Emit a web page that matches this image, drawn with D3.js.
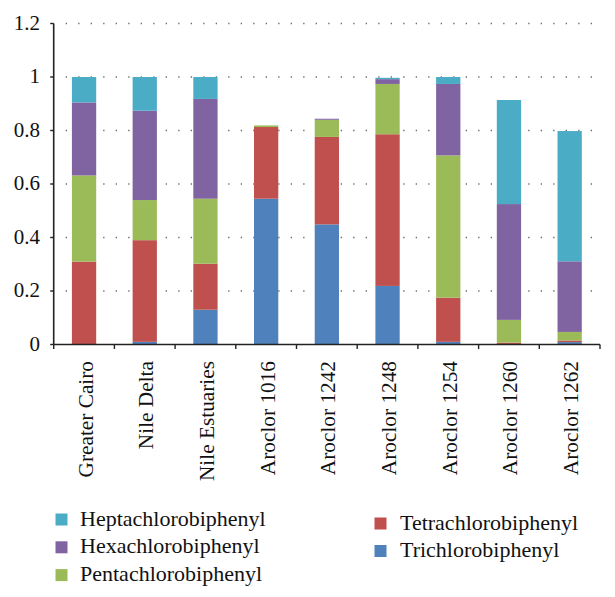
<!DOCTYPE html>
<html>
<head>
<meta charset="utf-8">
<script src="https://cdn.jsdelivr.net/npm/d3@7"></script>
<style>
  html, body { margin: 0; padding: 0; background: #fff; }
  svg { display: block; }
  text { font-family: "Liberation Serif", "Times New Roman", serif; fill: #111; }
</style>
</head>
<body>
<svg id="chart" width="615" height="597"></svg>
<script>
// ---- data ----
const categories = ["Greater Cairo", "Nile Delta", "Nile Estuaries", "Aroclor 1016", "Aroclor 1242",
                    "Aroclor 1248", "Aroclor 1254", "Aroclor 1260", "Aroclor 1262"];
const trichloro   = [0.000, 0.010, 0.130, 0.545, 0.449, 0.219, 0.010, 0.002, 0.009];
const tetrachloro = [0.310, 0.380, 0.172, 0.268, 0.327, 0.567, 0.165, 0.005, 0.006];
const pentachloro = [0.322, 0.150, 0.243, 0.006, 0.064, 0.188, 0.532, 0.085, 0.032];
const hexachloro  = [0.273, 0.334, 0.373, 0.000, 0.004, 0.018, 0.267, 0.433, 0.264];
const heptachloro = [0.095, 0.126, 0.082, 0.000, 0.000, 0.005, 0.026, 0.389, 0.487];
const seriesNames = ["Trichlorobiphenyl", "Tetrachlorobiphenyl", "Pentachlorobiphenyl",
                     "Hexachlorobiphenyl", "Heptachlorobiphenyl"];
const seriesColors = ["#4F81BD", "#C0504D", "#9BBB59", "#8064A2", "#4BACC6"];
const yTickValues = [0, 0.2, 0.4, 0.6, 0.8, 1, 1.2];
const yTickLabels = ["0", "0.2", "0.4", "0.6", "0.8", "1", "1.2"];
// legend layout: left column then right column
const legendLeft = ["Heptachlorobiphenyl", "Hexachlorobiphenyl", "Pentachlorobiphenyl"];
const legendRight = ["Tetrachlorobiphenyl", "Trichlorobiphenyl"];

(function () {
// ---- build table ----
const seriesValues = [trichloro, tetrachloro, pentachloro, hexachloro, heptachloro];
const table = categories.map((c, i) => {
  const row = { cat: c };
  seriesNames.forEach((s, j) => { row[s] = seriesValues[j][i]; });
  return row;
});
const stacked = d3.stack().keys(seriesNames)(table);
const color = d3.scaleOrdinal().domain(seriesNames).range(seriesColors);

const svg = d3.select("#chart");
const pLeft = 53.7, pRight = 600, pTop = 23.5, pBottom = 344.5;

const x = d3.scaleBand().domain(categories).range([pLeft, pRight])
  .paddingInner(0.6).paddingOuter(0.3);
const y = d3.scaleLinear().domain([0, 1.2]).range([pBottom, pTop]);

// gridlines (dotted)
svg.append("g").selectAll("line").data(yTickValues.filter(v => v > 0)).join("line")
  .attr("x1", pLeft + 12).attr("x2", pRight - 6)
  .attr("y1", d => y(d)).attr("y2", d => y(d))
  .attr("stroke", "#6a6a6a").attr("stroke-width", 1.3)
  .attr("stroke-dasharray", "1.3,11.2");

// bars
svg.append("g").selectAll("g").data(stacked).join("g")
  .attr("fill", d => color(d.key))
  .selectAll("rect").data(d => d).join("rect")
  .attr("x", d => x(d.data.cat))
  .attr("width", x.bandwidth())
  .attr("y", d => y(d[1]))
  .attr("height", d => Math.max(0, y(d[0]) - y(d[1])));

// y axis
const yAxis = svg.append("g");
yAxis.append("line").attr("x1", pLeft).attr("x2", pLeft).attr("y1", pTop).attr("y2", pBottom)
  .attr("stroke", "#222").attr("stroke-width", 1.6);
yAxis.selectAll("line.tick").data(yTickValues).join("line").attr("class", "tick")
  .attr("x1", pLeft - 3.5).attr("x2", pLeft).attr("y1", d => y(d)).attr("y2", d => y(d))
  .attr("stroke", "#222").attr("stroke-width", 1.4);
yAxis.selectAll("text").data(yTickValues).join("text")
  .attr("x", 40).attr("y", d => y(d)).attr("dy", "0.3em")
  .attr("text-anchor", "end").attr("font-size", 21)
  .text((d, i) => yTickLabels[i]);

// x axis
const xAxis = svg.append("g");
xAxis.append("line").attr("x1", pLeft).attr("x2", pRight).attr("y1", pBottom).attr("y2", pBottom)
  .attr("stroke", "#222").attr("stroke-width", 1.6);
const boundaries = categories.map(c => x(c) - x.step() * x.paddingOuter()).concat([pRight]);
xAxis.selectAll("line.tick").data(boundaries).join("line").attr("class", "tick")
  .attr("x1", d => d).attr("x2", d => d).attr("y1", pBottom).attr("y2", pBottom + 4.5)
  .attr("stroke", "#222").attr("stroke-width", 1.4);
xAxis.selectAll("text").data(categories).join("text")
  .attr("transform", d => `translate(${x(d) + x.bandwidth() / 2},${pBottom + 16.5}) rotate(-90)`)
  .attr("dy", "0.4em").attr("text-anchor", "end").attr("font-size", 21.3)
  .text(d => d);

// legend
function legendCol(items, sx, tx, y0, gap) {
  const g = svg.append("g");
  items.forEach((name, i) => {
    const by = y0 + i * gap;
    g.append("rect").attr("x", sx).attr("y", by - 12).attr("width", 12).attr("height", 12)
      .attr("fill", color(name));
    g.append("text").attr("x", tx).attr("y", by).attr("font-size", 22).text(name);
  });
}
legendCol(legendLeft, 55.5, 80, 525.5, 27.8);
legendCol(legendRight, 374.5, 400, 529.5, 27.5);
})();
</script>
</body>
</html>
